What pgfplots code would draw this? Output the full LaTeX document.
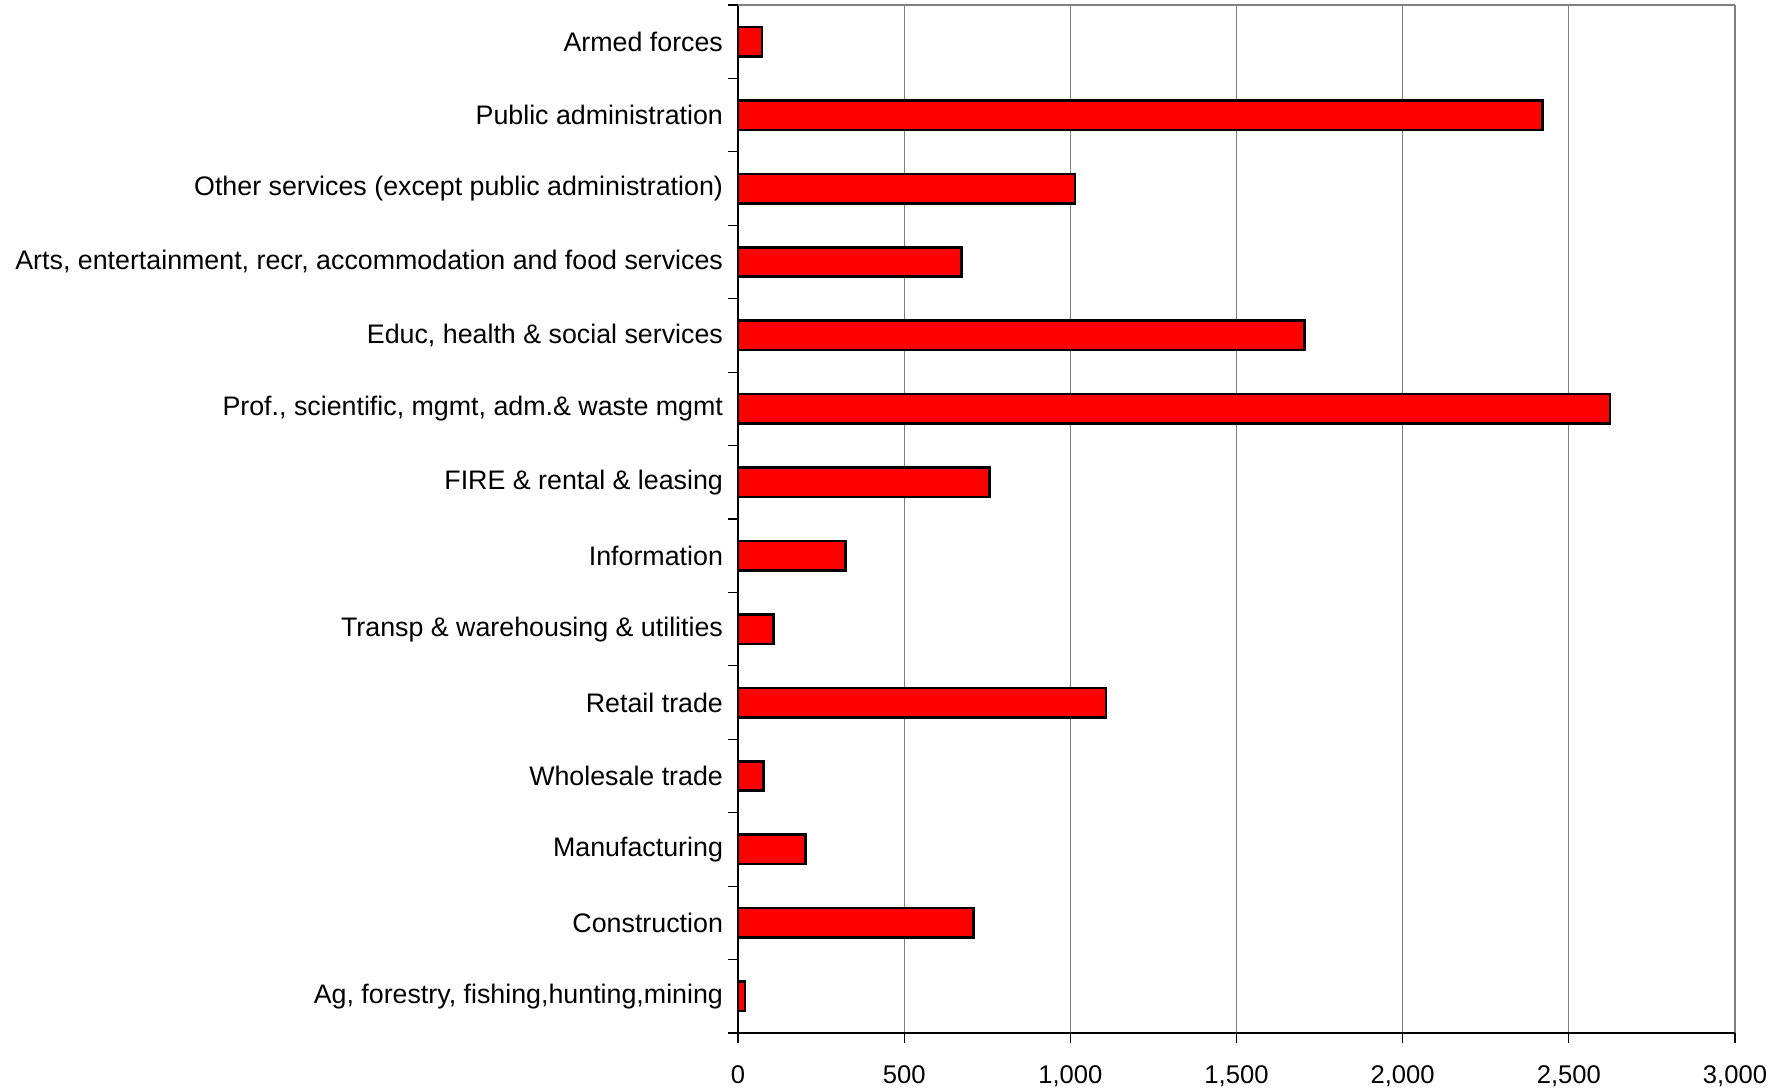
\documentclass[border=0pt]{standalone}
\usepackage{fontspec}
\setmainfont{Liberation Sans}
\usepackage{pgfplots}
\pgfplotsset{compat=1.18}
\begin{document}
\begin{tikzpicture}
\useasboundingbox (-369pt,-27pt) rectangle (526.5pt,516.5pt);
\begin{axis}[
  at={(0,0)}, anchor=south west,
  scale only axis,
  width=498.5pt, height=514pt,
  xmin=0, xmax=3000,
  ymin=-0.5, ymax=13.5,
  axis x line=bottom, axis y line=left,
  axis line style={-, black, line width=0.8pt},
  xtick={0,500,...,3000},
  ytick={-0.5,0.5,...,13.5},
  yticklabels={},
  extra y ticks={0,...,13},
  extra y tick labels={{Ag, forestry, fishing,hunting,mining},Construction,Manufacturing,Wholesale trade,Retail trade,{Transp \& warehousing \& utilities},Information,{FIRE \& rental \& leasing},{Prof., scientific, mgmt, adm.\& waste mgmt},{Educ, health \& social services},{Arts, entertainment, recr, accommodation and food services},{Other services (except public administration)},Public administration,Armed forces},
  extra y tick style={major tick length=0pt, grid=none, yticklabel style={xshift=-4pt, font=\fontsize{13.4}{15}\selectfont}},
  tick align=outside,
  major tick length=5pt,
  tick style={black, line width=0.6pt},
  xmajorgrids,
  grid style={gray, line width=0.6pt},
  /pgf/number format/assume math mode=true,
  /pgf/number format/1000 sep={,},
  ticklabel style={font=\fontsize{12.8}{15}\selectfont},
  xticklabel style={yshift=-8pt},
  xbar, bar width=0.4,
  clip=false,
]
\addplot[fill=red, draw=black, line width=1.3pt] coordinates {
  (21,0) (708,1) (203,2) (76,3) (1107,4) (107,5) (323,6) (757,7)
  (2624,8) (1704,9) (673,10) (1014,11) (2421,12) (72,13)
};
\draw[gray, line width=0.8pt] (axis cs:0,13.5) -- (axis cs:3000,13.5);
\end{axis}
\end{tikzpicture}
\end{document}
